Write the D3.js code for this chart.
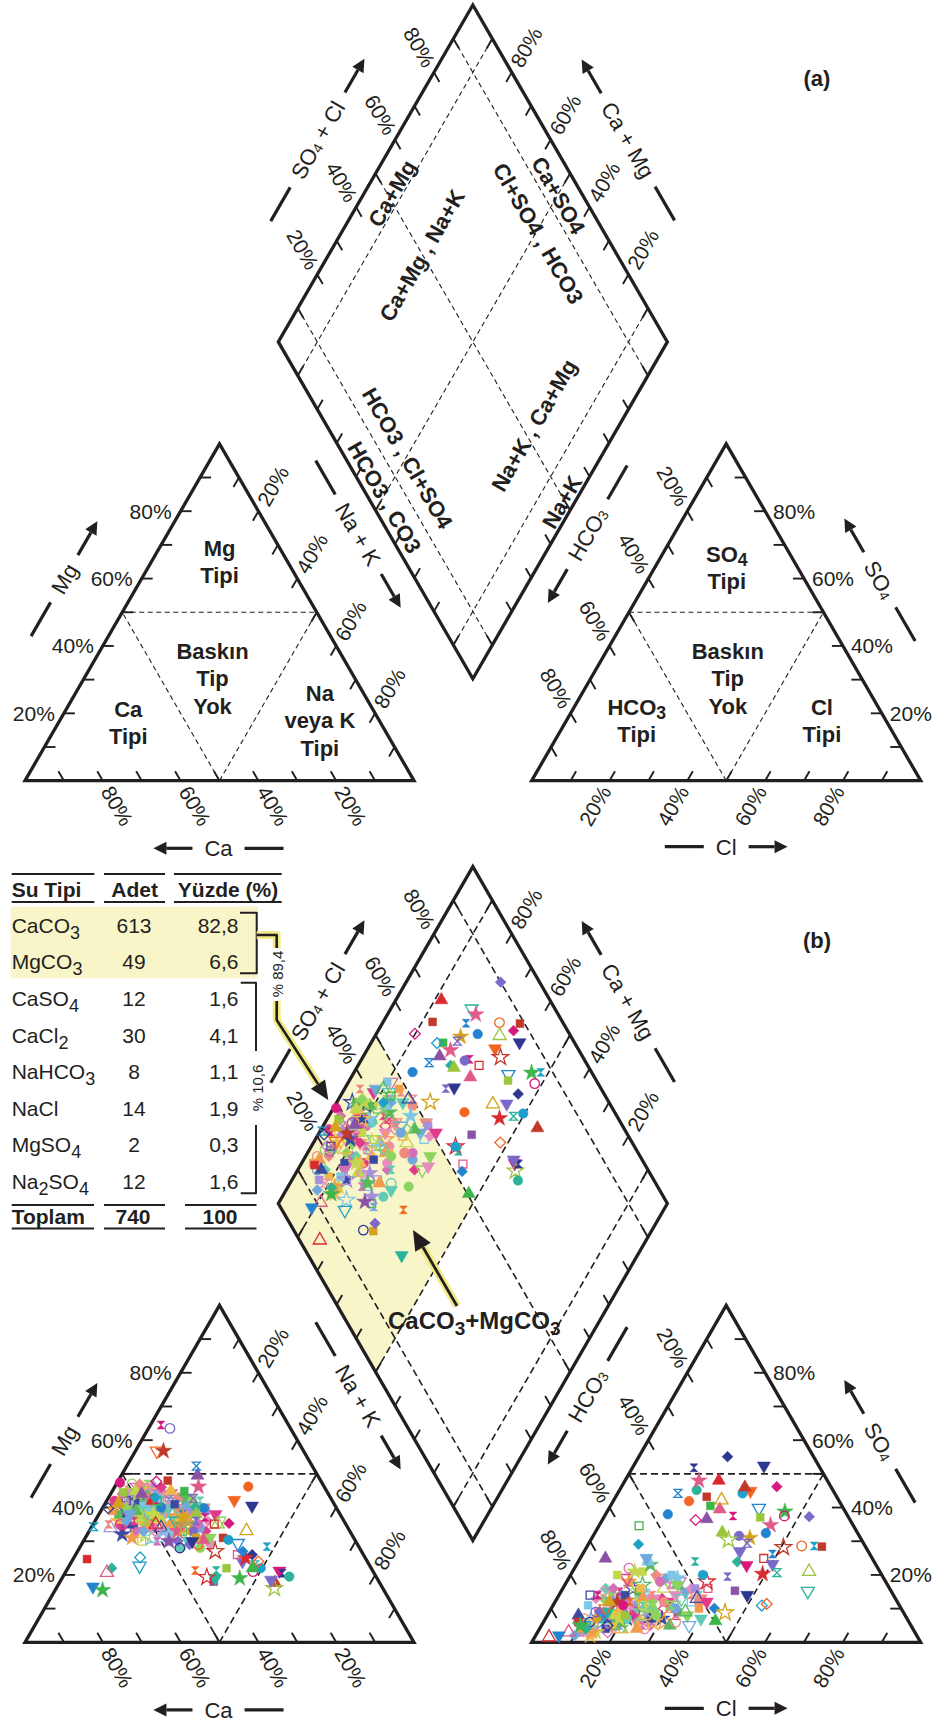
<!DOCTYPE html>
<html>
<head>
<meta charset="utf-8">
<title>Piper diyagramı</title>
<script src="https://cdn.jsdelivr.net/npm/d3@7"></script>
<style>
  body { margin: 0; background: #fff; }
  svg { display: block; font-family: "Liberation Sans", Arial, Helvetica, sans-serif; }
</style>
</head>
<body>
<svg id="chart" width="938" height="1722"></svg>
<script>
// ---------------- data ----------------
const tickPct = [20, 40, 60, 80];
const gridPct = [10, 20, 30, 40, 50, 60, 70, 80, 90];
const guidePct = [10, 50, 90];

const headers = ["Su Tipi", "Adet", "Yüzde (%)"];
const suTipi = ["CaCO_3", "MgCO_3", "CaSO_4", "CaCl_2", "NaHCO_3", "NaCl", "MgSO_4", "Na_2SO_4"];
const adet = [613, 49, 12, 30, 8, 14, 2, 12];
const yuzde = ["82,8", "6,6", "1,6", "4,1", "1,1", "1,9", "0,3", "1,6"];
const toplam = ["Toplam", "740", "100"];
const groupShare = ["% 89,4", "% 10,6"];

const cationZoneText = [["Mg", "Tipi"], ["Baskın", "Tip", "Yok"], ["Ca", "Tipi"], ["Na", "veya K", "Tipi"]];
const anionZoneText = [["SO_4", "Tipi"], ["Baskın", "Tip", "Yok"], ["HCO_3", "Tipi"], ["Cl", "Tipi"]];
const diamondText = ["Ca+Mg", "Ca+Mg , Na+K", "Cl+SO4 , HCO3", "Ca+SO4", "HCO3 , Cl+SO4", "HCO3 , CO3", "Na+K , Ca+Mg", "Na+K"];

// samples: [Mg %, Na+K %, SO4 %, Cl %]  (meq %)
const coreSamples = [
  [42,6,8,14],[40,9,10,18],[38,12,6,20],[44,4,5,12],[36,15,12,22],[41,8,14,16],[39,11,9,25],[45,3,7,10],
  [37,14,4,17],[43,7,11,21],[35,18,8,27],[40,10,15,13],[38,13,3,15],[46,5,9,19],[34,20,13,24],[42,9,6,11],
  [39,16,10,29],[44,6,12,15],[36,12,7,23],[41,4,16,18],[37,19,5,20],[43,11,8,26],[33,22,11,31],[40,7,4,13],
  [38,17,14,21],[45,8,10,17],[35,13,2,14],[42,14,12,28],[39,5,6,9],[36,21,9,33],[44,10,13,12],[32,24,16,26],
  [41,12,5,19],[37,8,18,16],[43,15,7,24],[34,16,10,18],[46,7,3,11],[40,19,11,30],[38,6,8,8],[35,26,15,32],
  [42,11,17,20],[39,14,4,22],[44,12,9,27],[31,28,12,35],[41,6,13,10],[36,17,6,25],[43,9,19,15],[33,19,8,20],
  [40,15,14,34],[47,4,6,14],[38,10,21,18],[35,23,5,28],[42,16,10,31],[30,27,9,22],[45,11,15,21],[37,9,3,12],
  [39,20,12,37],[34,11,7,16],[43,5,11,23],[36,24,17,29],[41,13,8,36],[32,15,14,19],[44,14,5,26],[38,22,10,24],
  [40,3,9,15],[33,30,13,27],[46,10,12,19],[37,18,19,23],[42,8,7,30],[29,25,6,18],[39,7,22,14],[35,14,10,38],
  [43,13,16,11],[31,20,4,21],[41,17,13,25],[36,6,5,19],[44,16,8,33],[34,28,11,30],[38,5,15,20],[40,22,18,26],
  [45,6,10,24],[33,12,9,13],[39,18,6,31],[37,26,14,36],[42,2,8,16],[30,22,12,17],[43,18,20,22],[35,9,7,27],
  [41,20,5,38],[38,15,23,19],[47,8,13,17],[32,26,8,24],[40,12,11,9],[36,29,16,33],[44,9,4,21],[34,8,12,29],
  [39,23,9,16],[42,19,15,35],[28,31,10,26],[37,11,20,12],[43,4,3,18],[35,20,13,22],[40,17,7,40],[31,17,6,12],
  [45,13,17,27],[38,25,12,28],[42,5,14,8],[33,14,19,25],[39,9,5,33],[36,32,11,31],[44,7,21,16],[30,19,9,15],
  [41,15,4,27],[37,21,16,20],[46,12,8,22],[34,5,10,18],[40,26,13,37],[32,9,7,21],[43,16,12,14],[35,27,18,24],
  [39,3,4,11],[38,19,9,26],[42,13,24,18],[29,33,14,30],[45,9,6,28],[36,10,15,15],[41,21,10,32],[33,24,5,19],
  [40,6,12,25],[37,16,8,17],[44,11,18,29],[31,12,3,14],[42,24,11,23],[35,7,9,22],[39,27,16,34],[47,6,7,13],
  [34,18,13,36],[38,8,25,17],[43,20,6,20],[36,13,11,30],[28,26,7,21],[41,10,20,26],[33,17,15,11],[45,15,9,18],
  [38,30,12,39],[40,14,6,15],[35,4,14,24],[42,22,8,28],[30,15,11,23],[44,3,16,13],[37,23,4,25],[39,12,13,32],
  [32,21,19,28],[46,9,11,20],[34,25,6,34],[41,18,14,17],[36,8,2,10],[43,10,9,35],[31,32,17,29],[38,14,7,19]
];
const outlierSamples = [
  [30,24.3,37.3,52.7],[42,11.7,48,24.1],[36,20.8,15.2,63.4],[33,22.7,34.8,44],[38,21.5,26.2,48.8],
  [29,30,28.6,55.1],[31,35.4,28.4,60.4],[35.3,34.8,46.2,39.9],[35.1,32,21,60.8],[40.5,38.1,52.4,33.5],
  [37.1,22.1,31,40.6],[42.7,21.9,29.4,40.7],[39.8,26.1,32.4,44],[44.9,18.5,40.5,25.7],[25.2,17,10.9,53.7],
  [49.5,19.6,36.6,26.7],[42.2,32.7,44.9,33.8],[27,35.4,28.2,50.6],[37.1,27.7,37.5,33],[33,26.7,31.6,37.5],
  [35.1,31.1,24.9,47.2],[40,23.8,23.9,40.9],[30.4,30.6,39.5,28.6],[29.4,40,39.8,38.5],[19,45.7,38.8,45.7],
  [28.4,48,28.6,58.3],[21,48.1,37.5,46.2],[22,40.8,37.1,40.2],[26,45.4,55.1,22.8],[33.1,40.4,42.2,27.7],
  [24,43.9,23.2,50.3],[25,44.2,20.3,49.2],[23,47.5,20.7,52.7],[22,49.6,44.2,32.1],[18,39.5,15.3,44.6],
  [24,48,11.4,54.7],[17.7,55.4,46,31.8],[21.2,54.8,22.9,43.8],[16,56.1,30.4,35.4],[20.5,55.9,51.8,15.8],
  [19.5,58.2,45.2,19.8],[26,41.6,16,37.3],[27,42.5,10.1,41.9],[22,47.5,6.3,44.1],[22.7,18.1,5,11.1],
  [30,22,8,14.5],[21.3,33.1,12,19.2],[28,25.8,6,11.9],[31,28.5,7,13.3],[29,27.8,9,12.9],
  [35,16.1,1.5,3.7],[19,39.4,9,15],[46.2,21.5,48,19],[52.3,17.9,44.2,15.5],[46.2,34.3,41.9,19.5],
  [48,12.7,43.2,23.4],[47.7,9.9,36.3,24],[38,25,32.6,32.7],[30,28,14,48.4],[34,24,8.8,45.3],
  [36,26,19.5,40.6],[40,15,38,16],[42,13,34.6,10.3],[43,12,29.1,12.9],[44,8,24.9,6.5],
  [56.8,5.5,10,14],[56.8,7.2,12,16],[64.5,2.7,14,10],[63.5,5.5,9,12],[24.7,3.6,6,9],
  [22,11.3,4,12],[20.7,10.7,3,8],[16.5,9.2,2,6],[15.5,12.2,5,10],[34.3,0.5,7,15],
  [47.4,0.7,11,18],[44.5,3,8,20],[39.8,1.5,5,17],[41.3,3.4,12,14],[18.5,54,27,40],
  [19.3,37.1,18,36],[21.3,38.5,24,30],[30.4,37.1,20,34]
];

// ---------------- drawing ----------------
const svg = d3.select("#chart");
const ink = "#231f20";
const yellow = "#f8f5c8";
const glow = "#f1ea86";
const K = Math.sqrt(3) / 2;
const S = 389, H = S * K;
const leftX = 25, rightX = 531.7, baseA = 780.7, shiftB = 861.6;
const tickLen = 11;

// the dense core is drawn in softer colours, the scattered samples in stronger ones
const coreColors = ["#8dd35f", "#f39a4c", "#e98bbf", "#a58fdb", "#6fa8dc", "#c4d64a", "#5fcab5",
  "#f0b84a", "#ef8a80", "#58b85c", "#d36fb5", "#7cc7e6", "#e23a8a", "#3b4aa0"];
const outlierColors = ["#2e3790", "#d92b2f", "#2383cf", "#8b52a8", "#d6197f", "#d4a21c", "#2bb39a",
  "#3db54a", "#f26522", "#9bc53d", "#7b68c8", "#e05a8a", "#1fa0c8", "#c0392b"];
const hourglass = { draw(ctx, size) { const r = Math.sqrt(size) / 2;
  ctx.moveTo(-r, -r); ctx.lineTo(r, -r); ctx.lineTo(-r, r); ctx.lineTo(r, r); ctx.closePath(); } };
const markerShapes = [
  { type: d3.symbolCircle, size: 72 },
  { type: d3.symbolSquare, size: 62 },
  { type: d3.symbolSquare, size: 58, rot: 45 },
  { type: d3.symbolTriangle, size: 74 },
  { type: d3.symbolTriangle, size: 74, rot: 180 },
  { type: d3.symbolStar, size: 84 },
  { type: hourglass, size: 62 }
];

function ternary(x0, y0) {
  const sx = d3.scaleLinear().domain([0, 100]).range([x0, x0 + S]);
  const sy = d3.scaleLinear().domain([0, 100]).range([y0, y0 - H]);
  return (p1, p2) => [sx(p1 + p2 / 2), sy(p2)];
}
function diamond(xL, yM) {
  const sx = d3.scaleLinear().domain([0, 200]).range([xL, xL + S]);
  const sy = d3.scaleLinear().domain([-100, 100]).range([yM - H, yM + H]);
  return (n, a) => [sx(n + a), sy(n - a)];
}

// text with "_4" style subscripts
function rich(sel, str, subSize, subDy) {
  let shift = 0;
  str.split(/(_\d)/).filter(Boolean).forEach(part => {
    const sub = part[0] === "_";
    const ts = sel.append("tspan").text(sub ? part.slice(1) : part);
    const target = sub ? subDy : 0;
    if (target !== shift) { ts.attr("dy", target - shift); shift = target; }
    if (sub) ts.attr("font-size", subSize);
  });
  return sel;
}

const mid = (p, q) => [(p[0] + q[0]) / 2, (p[1] + q[1]) / 2];
const off = (p, v, d) => [p[0] + v[0] * d, p[1] + v[1] * d];

function guide(g, p, q, dash) {
  g.append("line").attr("x1", p[0]).attr("y1", p[1]).attr("x2", q[0]).attr("y2", q[1])
    .attr("stroke", ink).attr("stroke-width", dash.w).attr("stroke-dasharray", dash.d);
}
function edgeTicks(g, pt, dir) {
  g.append("g").selectAll("line").data(gridPct).join("line")
    .attr("x1", k => pt(k)[0]).attr("y1", k => pt(k)[1])
    .attr("x2", k => pt(k)[0] + dir[0] * tickLen).attr("y2", k => pt(k)[1] + dir[1] * tickLen)
    .attr("stroke", ink).attr("stroke-width", 1.9);
}
function edgeLabels(g, pt, dir, gap, angle, anchor) {
  g.append("g").selectAll("text").data(tickPct).join("text")
    .attr("transform", k => `translate(${pt(k)[0] + dir[0] * gap},${pt(k)[1] + dir[1] * gap}) rotate(${angle})`)
    .attr("text-anchor", anchor).attr("dominant-baseline", "central")
    .attr("font-size", 21).attr("fill", ink)
    .text(k => k + "%");
}
function arrowHead(g, tip, dir, len, half) {
  const b = [tip[0] - dir[0] * len, tip[1] - dir[1] * len];
  g.append("path").attr("fill", ink)
    .attr("d", `M${tip[0]},${tip[1]}L${b[0] - dir[1] * half},${b[1] + dir[0] * half}L${b[0] + dir[1] * half},${b[1] - dir[0] * half}Z`);
  return b;
}
function axisTitle(g, c, angle, label, arrowAtEnd) {
  const t = g.append("g").attr("transform", `translate(${c[0]},${c[1]}) rotate(${angle})`);
  const txt = t.append("text").attr("text-anchor", "middle").attr("dominant-baseline", "central")
    .attr("font-size", 22).attr("fill", ink);
  rich(txt, label, 14, 4);
  const hw = txt.node().getComputedTextLength() / 2, gap = 12, len = 39;
  const sgn = arrowAtEnd ? 1 : -1;
  t.append("line").attr("x1", -sgn * (hw + gap)).attr("x2", -sgn * (hw + gap + len))
    .attr("y1", 0).attr("y2", 0).attr("stroke", ink).attr("stroke-width", 3.2);
  const base = arrowHead(t, [sgn * (hw + gap + len), 0], [sgn, 0], 13, 6.5);
  t.append("line").attr("x1", sgn * (hw + gap)).attr("x2", base[0])
    .attr("y1", 0).attr("y2", 0).attr("stroke", ink).attr("stroke-width", 3.2);
}
function blockLabel(g, c, lines, size, step, angle) {
  lines.forEach((ln, i) => {
    const t = g.append("text").attr("font-weight", "bold").attr("font-size", size).attr("fill", ink)
      .attr("text-anchor", "middle").attr("dominant-baseline", "central")
      .attr("transform", `translate(${c[0]},${c[1] + (i - (lines.length - 1) / 2) * step}) rotate(${angle || 0})`);
    rich(t, ln, size * 0.8, 6);
  });
}

function styleRows(rows, colors, phase) {
  return rows.map((v, i) => {
    const j = i + phase;
    const sh = markerShapes[j % markerShapes.length];
    return {
      v,
      path: d3.symbol().type(sh.type).size(sh.size)(),
      rot: sh.rot || 0,
      color: colors[(j * 5 + Math.floor(j / 7)) % colors.length],
      open: j % 3 === 1
    };
  });
}
const styled = styleRows(coreSamples, coreColors, 0).concat(styleRows(outlierSamples, outlierColors, 2));

function drawMarkers(g, place) {
  g.append("g").selectAll("path").data(styled).join("path")
    .attr("transform", d => { const p = place(d.v); return `translate(${p[0]},${p[1]}) rotate(${d.rot})`; })
    .attr("d", d => d.path)
    .attr("fill", d => d.open ? "none" : d.color)
    .attr("stroke", d => d.color)
    .attr("stroke-width", d => d.open ? 1.3 : 0.5);
}

function drawPanel(base, withData) {
  const g = svg.append("g");
  const cat = ternary(leftX, base), an = ternary(rightX, base);
  const gap = rightX - leftX - S;
  const bx = leftX + S + gap / 2, by = base - gap * K;
  const dm = diamond(bx - S / 2, by - H);
  const dash = withData ? { d: "7,4", w: 1.6 } : { d: "5,3.5", w: 1.1 };

  if (withData) {
    g.append("path").attr("fill", yellow)
      .attr("d", d3.line()([dm(0, 0), dm(0, 50), dm(50, 50), dm(50, 0)]) + "Z");
  }
  [cat, an].forEach(t => {
    guide(g, t(0, 50), t(50, 50), dash);
    guide(g, t(50, 0), t(0, 50), dash);
    guide(g, t(50, 0), t(50, 50), dash);
  });
  guidePct.forEach(k => { guide(g, dm(k, 0), dm(k, 100), dash); guide(g, dm(0, k), dm(100, k), dash); });

  const outline = pts => g.append("path").attr("d", d3.line()(pts) + "Z").attr("fill", "none")
    .attr("stroke", ink).attr("stroke-width", 3.3).attr("stroke-linejoin", "miter");
  outline([cat(0, 0), cat(100, 0), cat(0, 100)]);
  outline([an(0, 0), an(100, 0), an(0, 100)]);
  outline([dm(0, 0), dm(0, 100), dm(100, 100), dm(100, 0)]);

  // cation triangle: p1 = Na+K, p2 = Mg
  edgeTicks(g, k => cat(0, k), [1, 0]);
  edgeTicks(g, k => cat(k, 100 - k), [-0.5, K]);
  edgeTicks(g, k => cat(100 - k, 0), [-0.5, -K]);
  edgeLabels(g, k => cat(0, k), [-1, 0], 9, 0, "end");
  edgeLabels(g, k => cat(k, 100 - k), [0.5, -K], 8, -60, "start");
  edgeLabels(g, k => cat(100 - k, 0), [0.5, K], 8, 60, "start");
  // anion triangle: p1 = Cl, p2 = SO4
  edgeTicks(g, k => an(0, 100 - k), [0.5, K]);
  edgeTicks(g, k => an(100 - k, k), [-1, 0]);
  edgeTicks(g, k => an(k, 0), [0.5, -K]);
  edgeLabels(g, k => an(0, 100 - k), [-0.5, -K], 8, 60, "end");
  edgeLabels(g, k => an(100 - k, k), [1, 0], 8, 0, "start");
  edgeLabels(g, k => an(k, 0), [-0.5, K], 8, -60, "end");
  // diamond: n = Na+K, a = SO4+Cl
  edgeTicks(g, k => dm(0, k), [0.5, K]);
  edgeTicks(g, k => dm(k, 100), [-0.5, K]);
  edgeTicks(g, k => dm(k, 0), [0.5, -K]);
  edgeTicks(g, k => dm(100, k), [-0.5, -K]);
  edgeLabels(g, k => dm(0, k), [-0.5, -K], 8, 60, "end");
  edgeLabels(g, k => dm(100 - k, 100), [0.5, -K], 8, -60, "start");

  // axis titles
  axisTitle(g, off(mid(cat(0, 0), cat(0, 100)), [-K, -0.5], 67), -60, "Mg", true);
  axisTitle(g, off(mid(an(100, 0), an(0, 100)), [K, -0.5], 65), 60, "SO_4", false);
  axisTitle(g, off(mid(dm(0, 0), dm(0, 100)), [-K, -0.5], 67), -60, "SO_4 + Cl", true);
  axisTitle(g, off(mid(dm(0, 100), dm(100, 100)), [K, -0.5], 67), 60, "Ca + Mg", false);
  axisTitle(g, off(off(mid(dm(0, 0), dm(100, 0)), [-K, 0.5], 27), [0.5, K], 12), 60, "Na + K", true);
  axisTitle(g, off(off(mid(dm(100, 0), dm(100, 100)), [K, 0.5], 27), [-0.5, K], 12), -60, "HCO_3", false);
  axisTitle(g, [cat(50, 0)[0] - 1, base + 67.6], 0, "Ca", false);
  axisTitle(g, [an(50, 0)[0], base + 66], 0, "Cl", true);

  if (!withData) {
    const catAt = [[17.5, 65], [33, 30.4], [17.9, 17.3], [66.8, 18]];
    const anAt = [[18.5, 63.3], [35.2, 30.4], [18, 18], [65.6, 18]];
    cationZoneText.forEach((ln, i) => blockLabel(g, cat(...catAt[i]), ln, 22, ln.length > 2 ? 27.5 : 27));
    anionZoneText.forEach((ln, i) => blockLabel(g, an(...anAt[i]), ln, 22, ln.length > 2 ? 27.5 : 27));
    const dAt = [[7.1, 51.2, -60], [24, 49.7, -60], [50.8, 83, 60], [50.3, 93.8, 60],
                 [50.5, 16, 60], [50.4, 4.3, 60], [78, 53.3, -60], [96.6, 49.1, -60]];
    diamondText.forEach((s, i) => blockLabel(g, dm(dAt[i][0], dAt[i][1]), [s], 22, 0, dAt[i][2]));
  } else {
    drawMarkers(g, v => cat(v[1], v[0]));
    drawMarkers(g, v => an(v[3], v[2]));
    drawMarkers(g, v => dm(v[1], v[2] + v[3]));
  }
}

drawPanel(baseA, false);
drawPanel(baseA + shiftB, true);

// panel tags
[["(a)", 78], ["(b)", 940]].forEach(([s, y]) =>
  svg.append("text").attr("x", 817).attr("y", y).attr("text-anchor", "middle").attr("dominant-baseline", "central")
    .attr("font-weight", "bold").attr("font-size", 22).attr("fill", ink).text(s));

// ---------------- table ----------------
(function drawTable() {
  const g = svg.append("g").attr("fill", ink);
  const rule = (x1, x2, y) => g.append("line").attr("x1", x1).attr("x2", x2).attr("y1", y).attr("y2", y)
    .attr("stroke", ink).attr("stroke-width", 2);
  g.append("rect").attr("x", 10.7).attr("y", 906.7).attr("width", 247.6).attr("height", 71.6).attr("fill", yellow);

  [[11.7, 94.3], [104, 165], [174, 281.7]].forEach(([a, b]) => { rule(a, b, 874); rule(a, b, 902); });
  [[11.7, "start"], [134.7, "middle"], [228, "middle"]].forEach(([x, an], i) =>
    g.append("text").attr("x", x).attr("y", 896.7).attr("text-anchor", an)
      .attr("font-weight", "bold").attr("font-size", 21).text(headers[i]));

  suTipi.forEach((s, i) => {
    const y = 932.7 + i * 36.6;
    rich(g.append("text").attr("x", 11.7).attr("y", y).attr("font-size", 21), s, 18, 6);
    g.append("text").attr("x", 134).attr("y", y).attr("text-anchor", "middle").attr("font-size", 21).text(adet[i]);
    g.append("text").attr("x", 238.5).attr("y", y).attr("text-anchor", "end").attr("font-size", 21).text(yuzde[i]);
  });

  [[11.7, 94], [104, 165], [185, 256.5]].forEach(([a, b]) => { rule(a, b, 1205); rule(a, b, 1228.5); });
  [[11.7, "start"], [133, "middle"], [237.5, "end"]].forEach(([x, an], i) =>
    g.append("text").attr("x", x).attr("y", 1224).attr("text-anchor", an)
      .attr("font-weight", "bold").attr("font-size", 21).text(toplam[i]));

  const line = (d, w, c) => g.append("path").attr("d", d).attr("fill", "none").attr("stroke", c)
    .attr("stroke-width", w).attr("stroke-linejoin", "round");
  // brackets
  line("M240,912.7H256.7V973.3H240", 2, ink);
  line("M240.7,982.7H256V1051", 2, ink);
  line("M256,1125V1193.3H240.7", 2, ink);
  // connector to the diamond field
  line("M256.7,935H276.7V948", 8, glow);
  line("M256.7,935H276.7V948", 2.6, ink);
  const tip1 = [328.3, 1100], from1 = [276.7, 1020];
  const l1 = Math.hypot(tip1[0] - from1[0], tip1[1] - from1[1]);
  const d1 = [(tip1[0] - from1[0]) / l1, (tip1[1] - from1[1]) / l1];
  line(`M276.7,1001V1020L${tip1[0] - d1[0] * 10},${tip1[1] - d1[1] * 10}`, 8, glow);
  const b1 = arrowHead(g, tip1, d1, 19, 8.5);
  line(`M276.7,1001V1020L${b1[0]},${b1[1]}`, 2.6, ink);

  [[groupShare[0], 277.5, 974], [groupShare[1], 257, 1088]].forEach(([s, x, y]) =>
    g.append("text").attr("transform", `translate(${x},${y}) rotate(-90)`).attr("text-anchor", "middle")
      .attr("dominant-baseline", "central").attr("font-size", 15).text(s));

  // CaCO3+MgCO3 pointer
  const tip2 = [413, 1230], from2 = [457, 1306];
  const l2 = Math.hypot(tip2[0] - from2[0], tip2[1] - from2[1]);
  const d2 = [(tip2[0] - from2[0]) / l2, (tip2[1] - from2[1]) / l2];
  line(`M${from2[0]},${from2[1]}L${tip2[0] - d2[0] * 10},${tip2[1] - d2[1] * 10}`, 8, glow);
  const b2 = arrowHead(g, tip2, d2, 20, 9);
  line(`M${from2[0]},${from2[1]}L${b2[0]},${b2[1]}`, 2.8, ink);
  rich(g.append("text").attr("x", 388).attr("y", 1329).attr("font-weight", "bold").attr("font-size", 24),
    "CaCO_3+MgCO_3", 19, 6);
})();
</script>
</body>
</html>
